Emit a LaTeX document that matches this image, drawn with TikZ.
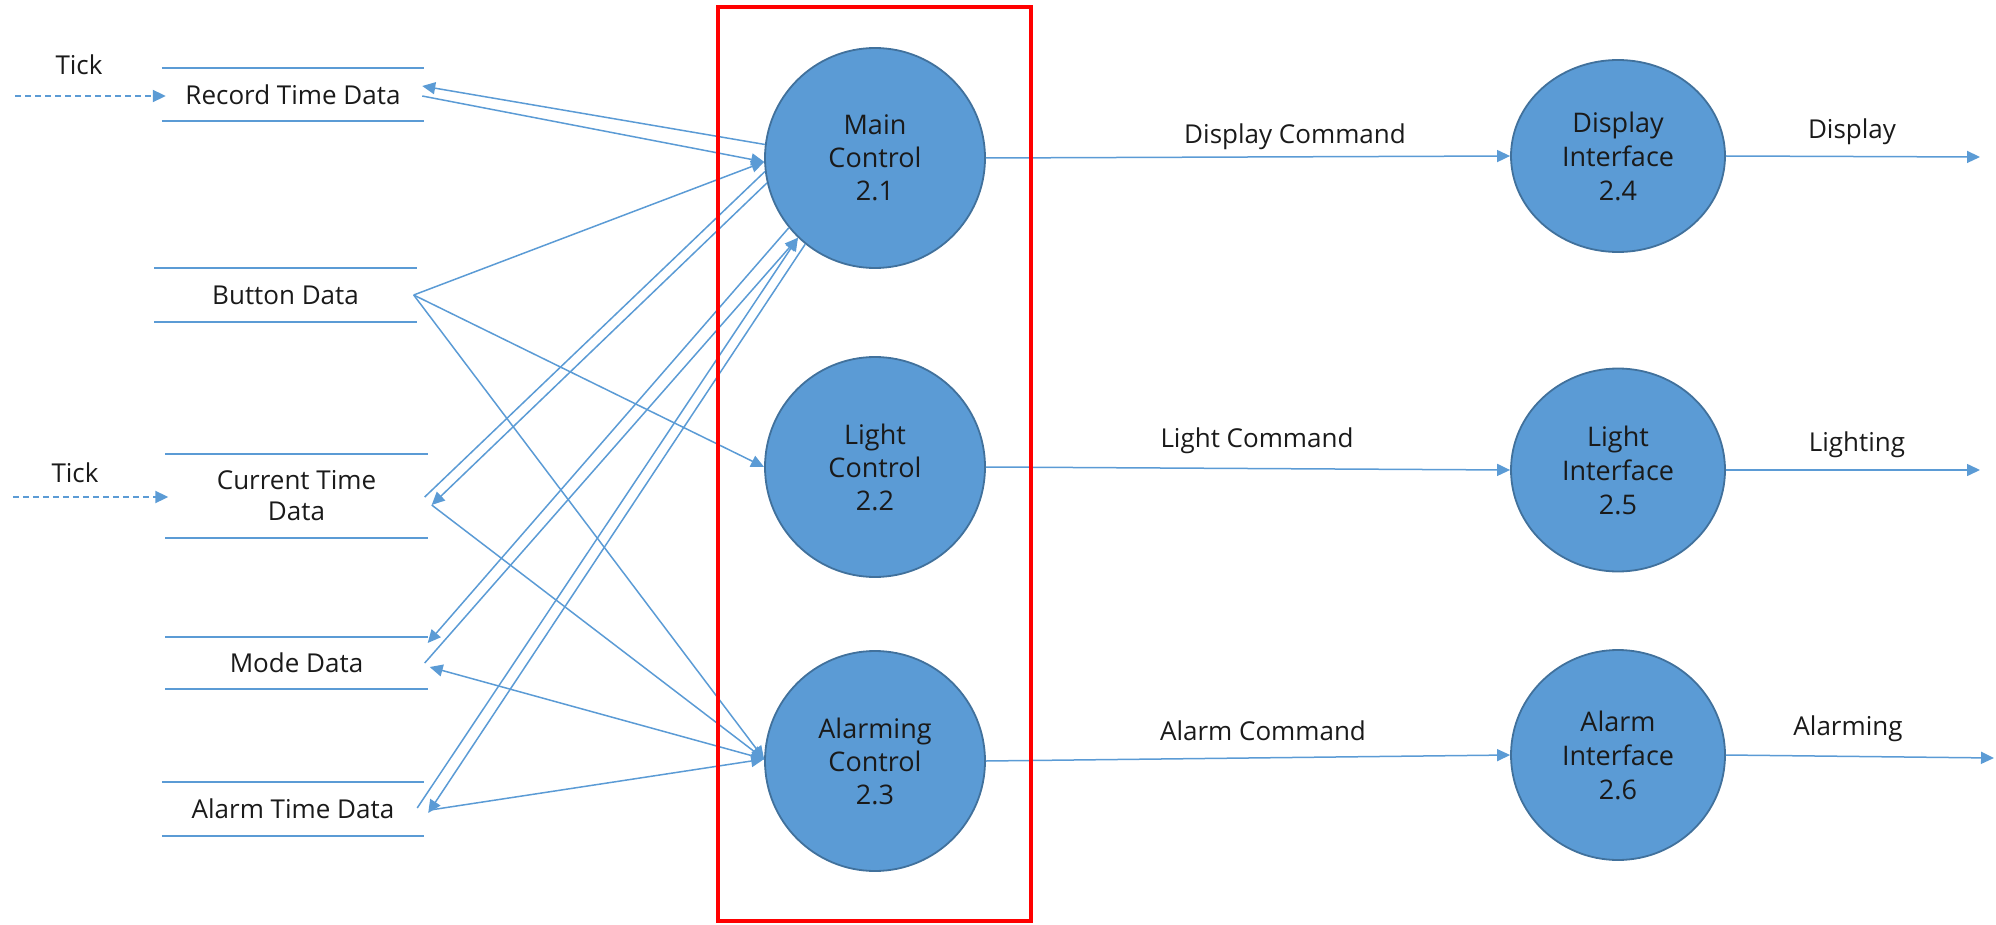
\documentclass[tikz,border=0pt]{standalone}
\usepackage{fontspec}
\setmainfont{Open Sans}
\usetikzlibrary{arrows.meta,shapes.geometric,calc}
\definecolor{procfill}{HTML}{5B9BD5}
\definecolor{procedge}{HTML}{41719C}
\definecolor{flow}{HTML}{5B9BD5}
\definecolor{boxred}{HTML}{FF0000}
\definecolor{txt}{HTML}{1A1A1A}

\begin{document}
\begin{tikzpicture}[x=1pt,y=-1pt,
  every node/.style={font=\fontsize{26}{31}\selectfont, text=txt},
  proc/.style={circle, draw=procedge, line width=1.8pt, fill=procfill, minimum size=220pt, inner sep=0pt, align=center, font=\fontsize{27}{33}\selectfont},
  iface/.style={ellipse, draw=procedge, line width=1.8pt, fill=procfill, minimum width=214pt, inner sep=0pt, align=center, font=\fontsize{27}{34}\selectfont},
  store/.style={minimum width=262pt, inner sep=0pt, align=center},
  storeline/.style={draw=flow, line width=2pt},
  flowline/.style={draw=flow, line width=1.5pt},
  flowarrow/.style={flowline, -{Triangle[length=13pt,width=12pt]}},
  tickarrow/.style={draw=flow, line width=2pt, dash pattern=on 6pt off 4pt, -{Triangle[length=13pt,width=12pt]}},
  lbl/.style={inner sep=0pt}
]
\useasboundingbox (0,0) rectangle (1996,925);

% data stores
\node[store, minimum height=53pt] (rtd) at (293,94.5) {Record Time Data};
\node[store, minimum height=54pt] (btn) at (285.5,295) {Button Data};
\node[store, minimum height=84pt] (ctd) at (296.5,496) {Current Time\\Data};
\node[store, minimum height=52pt] (mode) at (296.5,663) {Mode Data};
\node[store, minimum height=54pt] (atd) at (293,809) {Alarm Time Data};
\foreach \n in {rtd,btn,ctd,mode,atd}
  \draw[storeline] (\n.north west) -- (\n.north east) (\n.south west) -- (\n.south east);

% ticks
\node[lbl] (tick1) at (79,65) {Tick};
\node[lbl] (tick2) at (75,473) {Tick};
\coordinate (tickA) at (15,96);
\coordinate (tickB) at (13,497);
\draw[tickarrow] (tickA) -- ([xshift=4pt,yshift=-1.5pt]rtd.west);
\draw[tickarrow] (tickB) -- ([xshift=3pt,yshift=-1pt]ctd.west);

% processes
\node[proc] (main) at (875,158) {Main\\Control\\2.1};
\node[proc] (light) at (875,467) {Light\\Control\\2.2};
\node[proc] (alarm) at (875,761) {Alarming\\Control\\2.3};
\node[iface, minimum height=192pt] (disp) at (1618,156) {Display\\Interface\\2.4};
\node[iface, minimum height=203pt] (lif) at (1618,470) {Light\\Interface\\2.5};
\node[iface, minimum height=210pt] (aif) at (1618,755) {Alarm\\Interface\\2.6};

% record time data
\draw[flowarrow] (main.173) -- ([xshift=-2pt,yshift=8.5pt]rtd.east);
\draw[flowarrow] ([xshift=-2pt,yshift=-1.5pt]rtd.east) -- (main.182);
% button data
\draw[flowarrow] ([xshift=-3pt]btn.east) -- (main.182);
\draw[flowarrow] ([xshift=-3pt]btn.east) -- (light.180);
\draw[flowarrow] ([xshift=-3pt]btn.east) -- (alarm.179);
% current time data
\draw[flowline] ([xshift=-3pt,yshift=-1pt]ctd.east) -- (main.187);
\draw[flowarrow] (main.193) -- ([xshift=4pt,yshift=-9pt]ctd.east);
\draw[flowarrow] ([xshift=4pt,yshift=-9pt]ctd.east) -- (alarm.179);
% mode data
\draw[flowarrow] (main.219) -- ([yshift=20pt]mode.east);
\draw[flowarrow] ([xshift=-3pt]mode.east) -- (main.226);
\draw[flowarrow] (alarm.179) -- ([xshift=2pt,yshift=-4pt]mode.east);
% alarm time data
\draw[flowarrow] ([xshift=-7pt,yshift=1pt]atd.east) -- (main.226);
\draw[flowarrow] (main.231) -- ([xshift=4pt,yshift=-4pt]atd.east);
\draw[flowarrow] ([xshift=6pt,yshift=-1pt]atd.east) -- (alarm.179);

% commands
\draw[flowarrow] (main.east) -- (disp.west);
\draw[flowarrow] (light.east) -- (lif.west);
\draw[flowarrow] (alarm.east) -- (aif.west);
\node[lbl] (dc) at (1295,137) {Display Command};
\node[lbl] (lc) at (1257,441) {Light Command};
\node[lbl] (ac) at (1263,731) {Alarm Command};

% outputs
\coordinate (outD) at (1980,157);
\coordinate (outL) at (1980,470);
\coordinate (outA) at (1994,758);
\draw[flowarrow] (disp.east) -- (outD);
\draw[flowarrow] (lif.east) -- (outL);
\draw[flowarrow] (aif.east) -- (outA);
\node[lbl] (od) at (1852,132) {Display};
\node[lbl] (ol) at (1857,445) {Lighting};
\node[lbl] (oa) at (1848,729) {Alarming};

% red frame
\node[draw=boxred, line width=4.5pt, minimum width=313pt, minimum height=914pt, inner sep=0pt] (frame) at (874.5,464) {};
\end{tikzpicture}
\end{document}
